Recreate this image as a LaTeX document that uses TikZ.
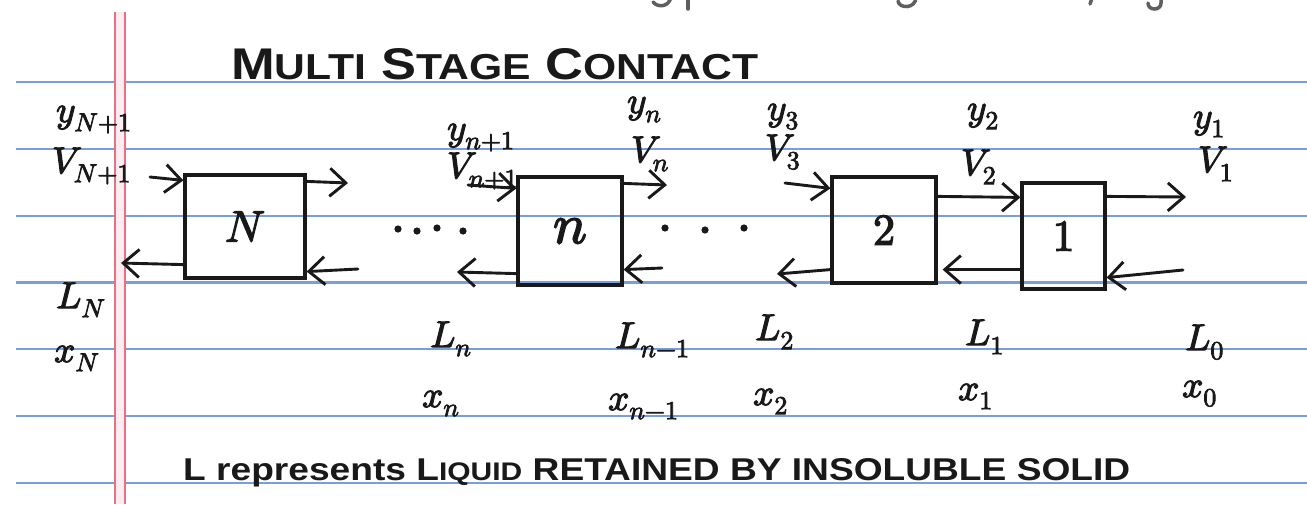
\documentclass[tikz,border=0pt]{standalone}
\usepackage{fontspec}
\usepackage{unicode-math}
\setmathfont{Latin Modern Math}[FakeBold=3]
\newfontfamily\handfont{Liberation Sans}
\usetikzlibrary{arrows.meta,calc}
\definecolor{ruleblue}{RGB}{120,158,222}
\definecolor{marginred}{RGB}{232,112,132}
\definecolor{marginpink}{RGB}{255,236,240}
\definecolor{ink}{RGB}{25,25,25}
\definecolor{greyink}{RGB}{95,95,95}
\newcommand{\smc}[1]{{\fontsize{26}{28}\selectfont #1}}
\begin{document}
\begin{tikzpicture}[x=1pt,y=-1pt,
  stagebox/.style={draw=ink,line width=3.2pt,inner sep=0pt,text=ink},
  lab/.style={anchor=base west,inner sep=0pt,text=ink,font=\fontsize{37}{40}\selectfont},
  flow/.style={draw=ink,line width=2.9pt,line cap=round,
    -{Straight Barb[length=16pt,width=28pt,line width=2.9pt]}},
  ruled/.style={ruleblue,line width=2.2pt},
  margin/.style={marginred,line width=1.8pt}]
\useasboundingbox (0,0) rectangle (1307,504);
\fill[white] (0,0) rectangle (1307,504);
% ruled paper
\foreach \yy in {82,148.8,215.6,282.4,349.2,416,482.8}
  \draw[ruled] (16,\yy) -- (1307,\yy);
\fill[marginpink] (115,12) rectangle (125,504);
\draw[margin] (115,12) -- (115,504);
\draw[margin] (125,12) -- (125,504);
% cut-off glyph ends at top edge
\begin{scope}[greyink,line width=3.5pt,line cap=round]
\draw (671,-3) .. controls (669,7) and (658,8) .. (653,2);
\draw (688,-3) -- (688,9);
\draw (916,-3) .. controls (916,9) and (899,9) .. (898,1);
\draw (1092,-2) -- (1090,4);
\draw (1161,-3) -- (1161,3) .. controls (1161,11) and (1148,11) .. (1148,3);
\end{scope}
% title
\node[anchor=base west,inner sep=0pt,text=ink] (title) at (231,79)
  {\resizebox{527pt}{31pt}{\handfont\bfseries\fontsize{32}{34}\selectfont M\smc{ULTI} S\smc{TAGE} C\smc{ONTACT}}};
% stages
\node[stagebox,minimum width=120pt,minimum height=103pt,font=\fontsize{44}{46}\selectfont] (N) at (245,226.5) {$N$};
\node[stagebox,minimum width=104pt,minimum height=108pt,font=\fontsize{56}{58}\selectfont] (n) at (570,231) {$n$};
\node[stagebox,minimum width=104pt,minimum height=106pt,font=\fontsize{44}{46}\selectfont] (s2) at (884,230) {$2$};
\node[stagebox,minimum width=83pt,minimum height=106pt,font=\fontsize{44}{46}\selectfont] (s1) at (1063.5,236) {$1$};
% free ends of streams
\coordinate (vinN) at (150,177);
\coordinate (voutN) at (348,183);
\coordinate (loutN) at (121,263);
\coordinate (linN) at (358,269);
\coordinate (vinn) at (468,185);
\coordinate (voutn) at (667,185);
\coordinate (loutn) at (457,272);
\coordinate (linn) at (662,268);
\coordinate (vin2) at (785,183);
\coordinate (lout2) at (777,274);
\coordinate (vout1) at (1186,197);
\coordinate (lin1) at (1183,270);
% streams
\draw[flow] (vinN) -- ($(N.north west)+(0,7)$);
\draw[flow] ($(N.north east)+(0,8)$) -- (voutN);
\draw[flow] ($(N.south west)+(0,-15)$) -- (loutN);
\draw[flow] (linN) -- ($(N.south east)+(0,-8)$);
\draw[flow] (vinn) -- ($(n.north west)+(0,13)$);
\draw[flow] ($(n.north east)+(0,8)$) -- (voutn);
\draw[flow] ($(n.south west)+(0,-13)$) -- (loutn);
\draw[flow] (linn) -- ($(n.south east)+(0,-17)$);
\draw[flow] (vin2) -- ($(s2.north west)+(0,13)$);
\draw[flow] ($(s2.north east)+(0,21)$) -- ($(s1.north west)+(0,16)$);
\draw[flow] ($(s1.north east)+(0,15)$) -- (vout1);
\draw[flow] ($(s1.south west)+(0,-21)$) -- ($(s2.south east)+(5,-15)$);
\draw[flow] (lin1) -- ($(s1.south east)+(0,-13)$);
\draw[flow] ($(s2.south west)+(0,-15)$) -- (lout2);
% dots between stages
\foreach \dx/\dy in {398/229,417/231,437/228,463/231,665/228,705/230,744/228}
  \fill[ink] (\dx,\dy) circle (3.6);
% stream labels
\node[lab] (yN1) at (56,122) {$y_{N+1}$};
\node[lab] (VN1) at (52,173) {$V_{N+1}$};
\node[lab] (LN) at (56,308) {$L_N$};
\node[lab] (xN) at (54,362) {$x_N$};
\node[lab] (yn1) at (447,140) {$y_{n+1}$};
\node[lab] (Vn1) at (447,178) {$V_{n+1}$};
\node[lab] (yn) at (627,113) {$y_n$};
\node[lab] (Vn) at (631,162) {$V_n$};
\node[lab] (y3) at (767,120) {$y_3$};
\node[lab] (V3) at (765,160) {$V_3$};
\node[lab] (y2) at (967,120) {$y_2$};
\node[lab] (V2) at (961,175) {$V_2$};
\node[lab] (y1) at (1193,128) {$y_1$};
\node[lab] (V1) at (1198,172) {$V_1$};
\node[lab] (Ln) at (430,347) {$L_n$};
\node[lab] (xn) at (422,407) {$x_n$};
\node[lab] (Lnm) at (615,348) {$L_{n-1}$};
\node[lab] (xnm) at (608,410) {$x_{n-1}$};
\node[lab] (L2) at (755,340) {$L_2$};
\node[lab] (x2) at (753,405) {$x_2$};
\node[lab] (L1) at (965,345) {$L_1$};
\node[lab] (x1) at (958,400) {$x_1$};
\node[lab] (L0) at (1185,350) {$L_0$};
\node[lab] (x0) at (1182,397) {$x_0$};
% note
\node[anchor=base west,inner sep=0pt,text=ink] (note) at (183,480)
  {\resizebox{947pt}{22pt}{\handfont\bfseries\fontsize{26}{28}\selectfont L represents L{\fontsize{21}{22}\selectfont IQUID} RETAINED BY INSOLUBLE SOLID}};
\end{tikzpicture}
\end{document}
